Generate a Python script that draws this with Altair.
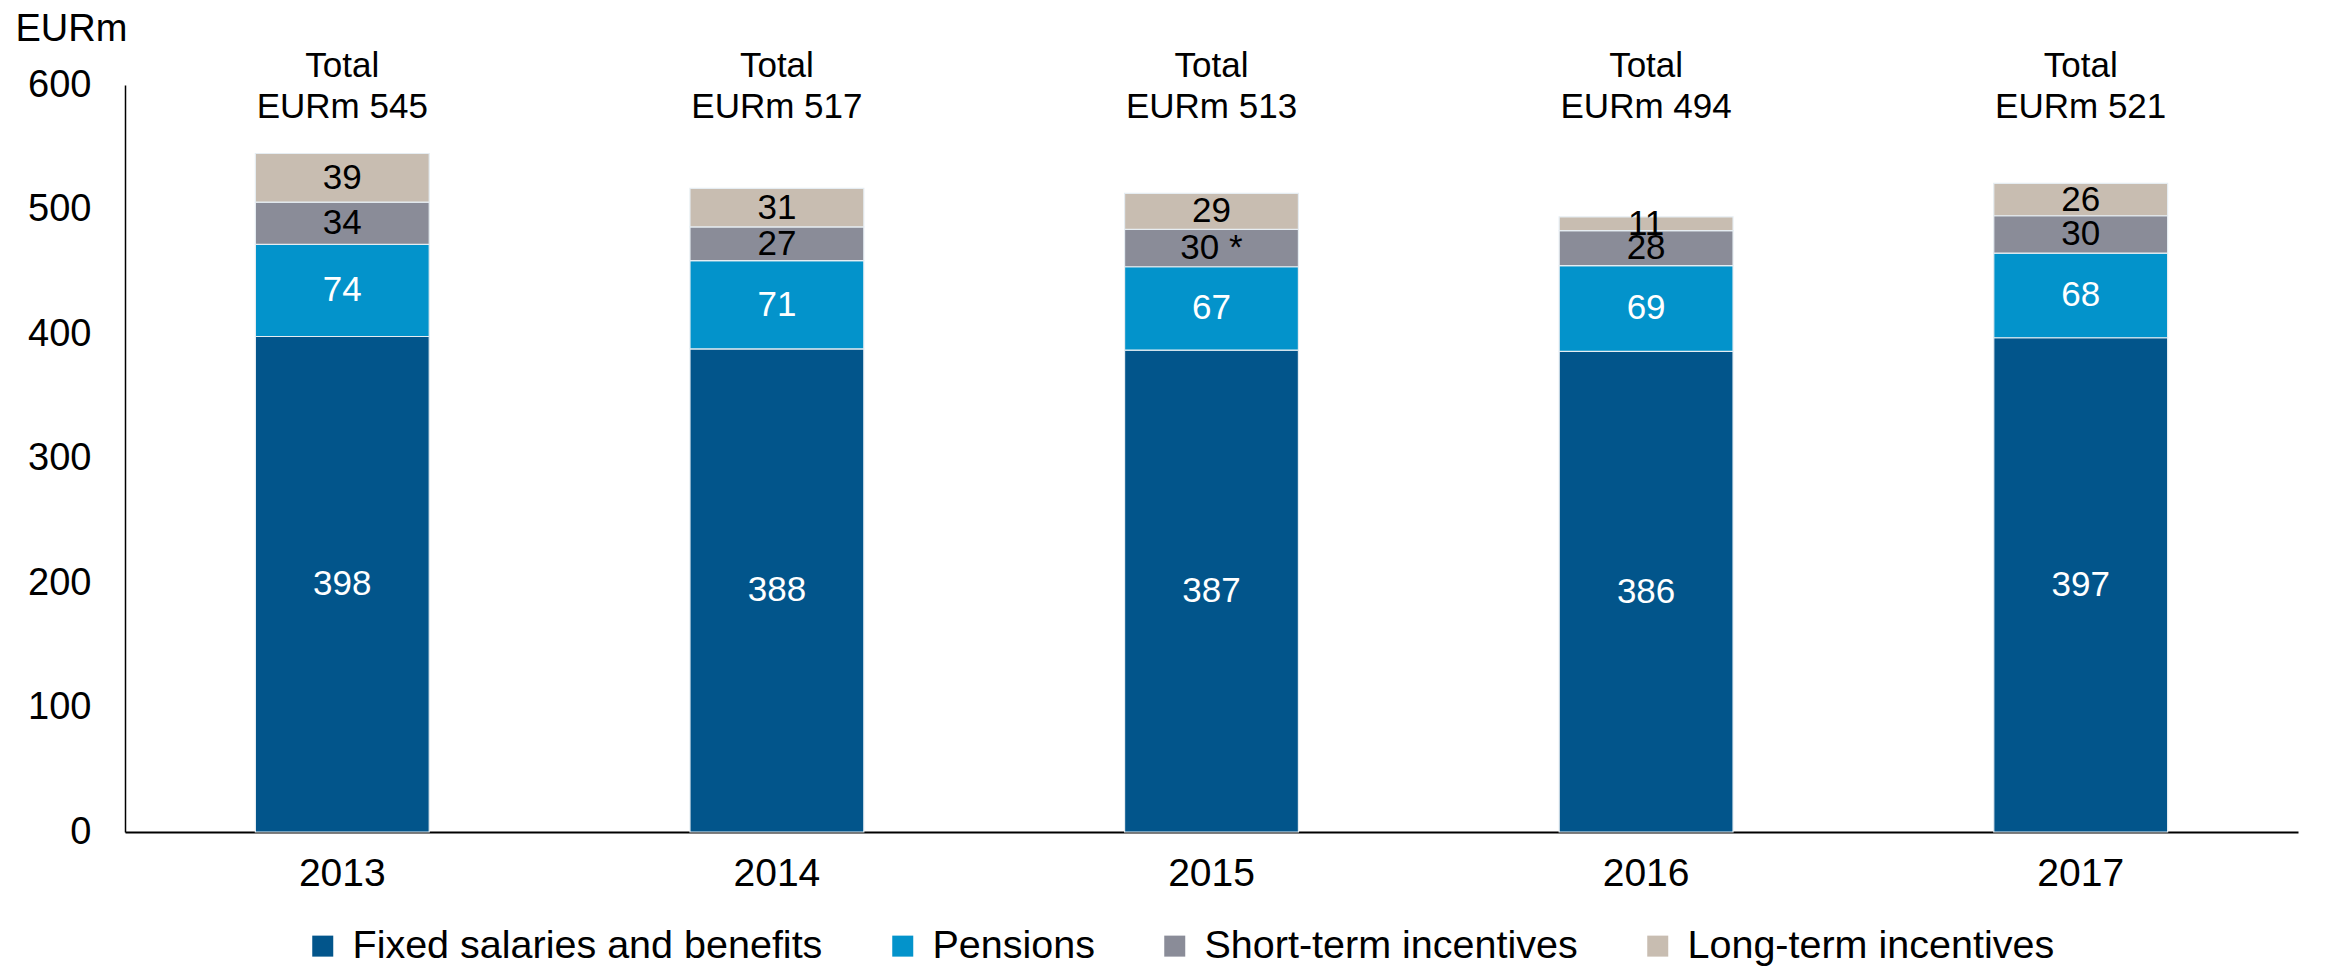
import altair as alt
import pandas as pd

years = ["2013", "2014", "2015", "2016", "2017"]
components = ["Fixed salaries and benefits", "Pensions", "Short-term incentives", "Long-term incentives"]
fixed = [398, 388, 387, 386, 397]
pensions = [74, 71, 67, 69, 68]
short_term = [34, 27, 30, 28, 30]
long_term = [39, 31, 29, 11, 26]
notes = {("2015", "Short-term incentives"): " *"}
colors = ["#02558B", "#0393CB", "#8A8C98", "#C8BDB1"]

series = [fixed, pensions, short_term, long_term]
rows = []
for yi, yr in enumerate(years):
    cum = 0
    for ci, comp in enumerate(components):
        v = series[ci][yi]
        rows.append({
            "year": yr, "component": comp, "value": v, "order": ci,
            "mid": cum + v / 2,
            "label": str(v) + notes.get((yr, comp), ""),
        })
        cum += v
df = pd.DataFrame(rows)
tot = df.groupby("year", as_index=False)["value"].sum()
tot["total_label"] = "EURm " + tot["value"].astype(str)

FONT = "Liberation Sans"

xaxis = alt.Axis(title=None, labelAngle=0, ticks=False, labelPadding=22,
                 labelFontSize=39, labelColor="black", domainColor="black",
                 domainWidth=2, labelFont=FONT)
xscale = alt.Scale(paddingInner=0.6, paddingOuter=0.3)
yaxis = alt.Axis(title="EURm", titleAngle=0, titleAlign="left",
                 titleBaseline="alphabetic", titleX=-110, titleY=-45,
                 titleFontSize=38, titleFontWeight="normal", titleFont=FONT,
                 titleColor="black",
                 values=[0, 100, 200, 300, 400, 500, 600], grid=False,
                 ticks=False, labelPadding=34, labelFontSize=38,
                 labelColor="black", labelFont=FONT,
                 domainColor="black", domainWidth=1.5)
yscale = alt.Scale(domain=[0, 600], nice=False)


def xenc():
    return alt.X("year:N", sort=years, scale=xscale, axis=xaxis)


bars = alt.Chart(df).mark_bar(stroke="#e6edf2", strokeWidth=1.2).encode(
    x=xenc(),
    y=alt.Y("value:Q", stack="zero", scale=yscale, axis=yaxis),
    color=alt.Color("component:N", sort=components,
                    scale=alt.Scale(domain=components, range=colors),
                    legend=alt.Legend(title=None, orient="none", direction="horizontal",
                                      legendX=178, legendY=841,
                                      symbolType="square", symbolSize=441,
                                      symbolStrokeWidth=0, labelFontSize=39.5,
                                      labelFont=FONT, labelColor="black",
                                      labelOffset=10, columnPadding=60,
                                      labelLimit=700)),
    order=alt.Order("order:Q", sort="ascending"),
)

labels = alt.Chart(df).mark_text(fontSize=35, font=FONT, baseline="middle").encode(
    x=xenc(),
    y=alt.Y("mid:Q", scale=yscale, axis=yaxis),
    text="label:N",
    color=alt.condition(
        alt.FieldOneOfPredicate(field="component", oneOf=components[:2]),
        alt.value("white"), alt.value("black")),
)

total1 = alt.Chart(tot).mark_text(fontSize=35, font=FONT, baseline="alphabetic",
                                  color="black").encode(
    x=xenc(), y=alt.value(-8), text=alt.value("Total"))
total2 = alt.Chart(tot).mark_text(fontSize=35, font=FONT, baseline="alphabetic",
                                  color="black").encode(
    x=xenc(), y=alt.value(33), text="total_label:N")

chart = alt.layer(bars, labels, total1, total2).properties(
    width=2173, height=747,
    autosize=alt.AutoSizeParams(type="none"),
    padding={"left": 117, "top": 77, "right": 22, "bottom": 135},
).configure_view(stroke=None)

chart.save("out.html", embed_options={"renderer": "svg", "actions": False})
